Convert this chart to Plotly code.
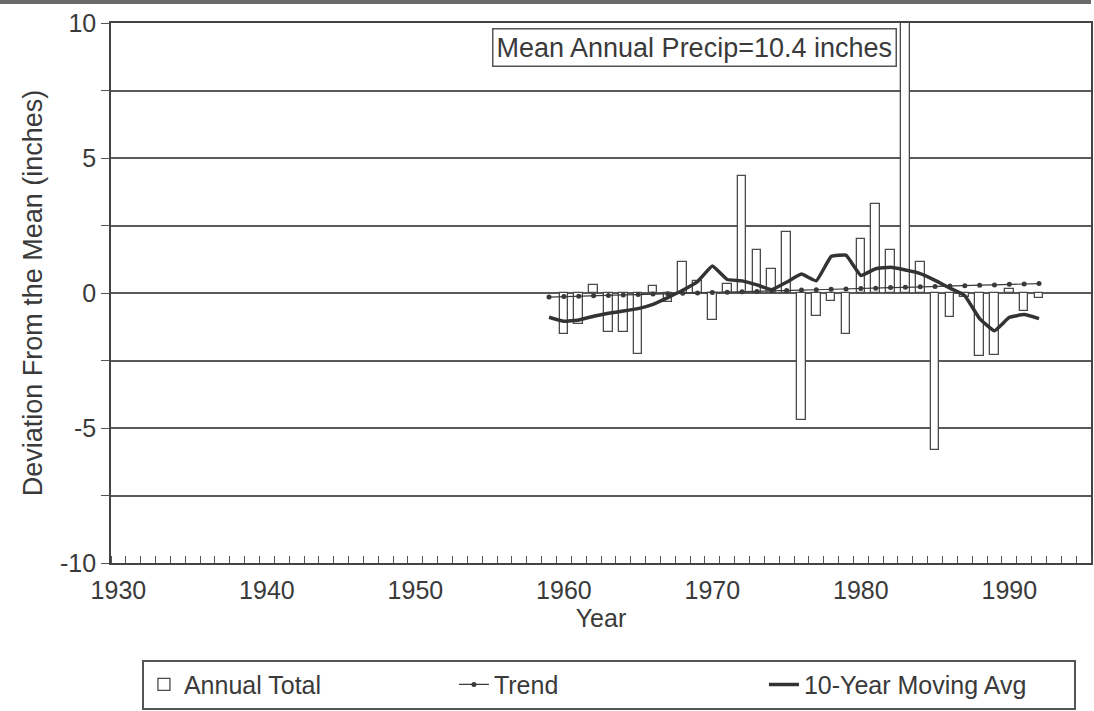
import plotly.graph_objects as go

# Data (deviation from the 10.4-inch mean annual precipitation)
years = list(range(1959, 1993))
annual_total = [None, -1.5, -1.15, 0.3, -1.45, -1.45, -2.25, 0.25, -0.35, 1.15,
                0.45, -1.0, 0.35, 4.35, 1.6, 0.9, 2.25, -4.7, -0.85, -0.3,
                -1.5, 2.0, 3.3, 1.6, 10.6, 1.15, -5.8, -0.9, -0.15, -2.35,
                -2.3, 0.15, -0.65, -0.2]
trend = [-0.15, -0.13, -0.12, -0.10, -0.09, -0.07, -0.06, -0.04, -0.03, -0.01,
         0.00, 0.02, 0.03, 0.05, 0.06, 0.08, 0.09, 0.11, 0.12, 0.14,
         0.15, 0.17, 0.18, 0.20, 0.21, 0.23, 0.24, 0.26, 0.27, 0.29,
         0.30, 0.32, 0.33, 0.35]
moving_avg = [-0.9, -1.05, -1.0, -0.86, -0.75, -0.67, -0.58, -0.42, -0.17, 0.1,
              0.42, 1.0, 0.5, 0.45, 0.3, 0.12, 0.4, 0.7, 0.45, 1.35,
              1.4, 0.65, 0.9, 0.95, 0.85, 0.72, 0.47, 0.18, -0.1, -0.95,
              -1.4, -0.9, -0.8, -0.95]

decade_labels = [1930, 1940, 1950, 1960, 1970, 1980, 1990]
y_grid = [-10, -7.5, -5, -2.5, 0, 2.5, 5, 7.5, 10]
y_labels = ["-10", "", "-5", "", "0", "", "5", "", "10"]

FONT = "Liberation Sans, Arial, sans-serif"
INK = "#3a3a3a"

fig = go.Figure()

fig.add_trace(go.Bar(
    x=years, y=annual_total, name="Annual Total", width=0.58,
    marker=dict(color="white", line=dict(color="#4a4a4a", width=1.3)),
))
fig.add_trace(go.Scatter(
    x=years, y=trend, name="Trend", mode="lines+markers",
    line=dict(color=INK, width=1.2),
    marker=dict(color=INK, size=5, symbol="circle"),
))
fig.add_trace(go.Scatter(
    x=years, y=moving_avg, name="10-Year Moving Avg", mode="lines",
    line=dict(color="#333333", width=3.5, shape="spline", smoothing=0.3),
))

fig.add_annotation(
    x=1968.8, y=9.1, xref="x", yref="y",
    text="Mean Annual Precip=10.4 inches", showarrow=False,
    font=dict(family=FONT, size=27, color=INK),
    bordercolor="#555555", borderwidth=1.5, borderpad=3,
)

# dark strip along the top edge of the sheet
fig.add_shape(type="line", xref="paper", yref="paper",
              x0=-0.12, x1=1.0, y0=1.0 + 21 / 542, y1=1.0 + 21 / 542,
              line=dict(color="#6a6a6a", width=4))

fig.update_layout(
    width=1094, height=711,
    margin=dict(l=111, r=1, t=23, b=146),
    plot_bgcolor="white", paper_bgcolor="white",
    font=dict(family=FONT, size=25, color=INK),
    bargap=0,
    showlegend=True,
    legend=dict(
        orientation="h", x=(142 - 111) / 982, y=-(662 - 565) / 542,
        xanchor="left", yanchor="top",
        bordercolor="#555555", borderwidth=2,
        font=dict(family=FONT, size=25, color=INK),
        entrywidth=265, traceorder="normal",
    ),
    xaxis=dict(
        range=[1929.5, 1995.5],
        tickmode="array", tickvals=decade_labels,
        ticktext=[str(v) for v in decade_labels],
        ticks="", showgrid=False, zeroline=False,
        showline=True, linecolor="#444444", linewidth=1.6, mirror=True,
        minor=dict(tick0=1929.5, dtick=1, ticks="inside", ticklen=7,
                   tickcolor="#555555", tickwidth=1.2, showgrid=False),
        ticklabelstandoff=4,
        title=dict(text="Year", standoff=4, font=dict(size=25)),
    ),
    yaxis=dict(
        range=[-10, 10],
        tickmode="array", tickvals=y_grid, ticktext=y_labels,
        ticks="outside", ticklen=8, tickcolor="#555555", tickwidth=1.2,
        showgrid=True, gridcolor="#5a5a5a", gridwidth=1.5,
        zeroline=False,
        showline=True, linecolor="#444444", linewidth=1.6, mirror=True,
        title=dict(text="Deviation From the Mean (inches)", standoff=10,
                   font=dict(size=27)),
    ),
)

fig.write_html("out.html")
